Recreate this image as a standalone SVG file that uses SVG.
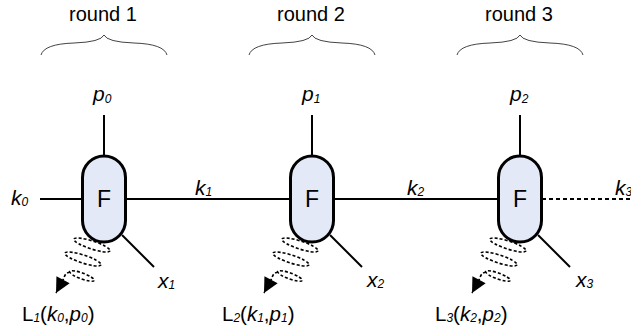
<svg xmlns="http://www.w3.org/2000/svg" xmlns:xlink="http://www.w3.org/1999/xlink" width="631" height="335" viewBox="0 0 631 335">
<style>
text{font-family:"Liberation Sans",Arial,sans-serif;fill:#000}
.lbl{font-size:21px;font-style:italic}
.sub{font-size:12px;font-style:italic}
.rnd{font-size:20px;text-anchor:middle}
.F{font-size:23px;text-anchor:middle}
.L{font-size:20.5px}
.pill{fill:#e3e9f6;stroke:#000;stroke-width:3}
.ln{stroke:#000;stroke-width:2;fill:none}
.dash{stroke:#000;stroke-width:2;fill:none;stroke-dasharray:4 3}
.brace{stroke:#444;stroke-width:1;fill:none}
.coil{stroke:#000;stroke-width:1.6;fill:none;stroke-dasharray:3 2}
</style>
<defs>
<marker id="arr" viewBox="0 0 10 10" refX="10" refY="5" markerUnits="userSpaceOnUse" markerWidth="16" markerHeight="15" orient="auto">
<path d="M0,0 L10,5 L0,10 z" fill="#000"/>
</marker>
<g id="spring">
<ellipse class="coil" cx="-12" cy="46" rx="19" ry="4" transform="rotate(18 -12 46)"/>
<ellipse class="coil" cx="-21" cy="60" rx="19" ry="4" transform="rotate(18 -21 60)"/>
<ellipse class="coil" cx="-22" cy="77" rx="13" ry="3" transform="rotate(20 -22 77)"/>
<path class="coil" d="M-34,73 Q-39,74 -40,79 L-48,94" marker-end="url(#arr)"/>
</g>
<path id="brace" class="brace" d="M-63,55 Q-60,44 -30,43 Q-3,42 0,35 Q3,42 30,43 Q60,44 63,55"/>
</defs>

<g id="braces">
<use xlink:href="#brace" x="104" y="0"/>
<use xlink:href="#brace" x="312" y="0"/>
<use xlink:href="#brace" x="520" y="0"/>
<text class="rnd" x="103" y="21">round 1</text>
<text class="rnd" x="311" y="21">round 2</text>
<text class="rnd" x="519" y="21">round 3</text>
</g>

<g id="connectors">
<line class="ln" x1="40" y1="199" x2="104" y2="199"/>
<line class="ln" x1="104" y1="199" x2="520" y2="199"/>
<line class="dash" x1="542" y1="199" x2="631" y2="199"/>
<line class="ln" x1="104" y1="115" x2="104" y2="160"/>
<line class="ln" x1="312" y1="115" x2="312" y2="160"/>
<line class="ln" x1="520" y1="115" x2="520" y2="160"/>
<line class="ln" x1="122" y1="235" x2="154" y2="267"/>
<line class="ln" x1="330" y1="235" x2="362" y2="267"/>
<line class="ln" x1="538" y1="235" x2="570" y2="267"/>
<use xlink:href="#spring" x="104" y="199"/>
<use xlink:href="#spring" x="312" y="199"/>
<use xlink:href="#spring" x="520" y="199"/>
</g>

<g id="node1">
<rect class="pill" x="82.5" y="156" width="43" height="86" rx="21.5"/>
<text class="F" x="104" y="207">F</text>
</g>
<g id="node2">
<rect class="pill" x="290.5" y="156" width="43" height="86" rx="21.5"/>
<text class="F" x="312" y="207">F</text>
</g>
<g id="node3">
<rect class="pill" x="498.5" y="156" width="43" height="86" rx="21.5"/>
<text class="F" x="520" y="207">F</text>
</g>

<g id="labels">
<text class="lbl" x="93" y="101">p<tspan class="sub" dy="2">0</tspan></text>
<text class="lbl" x="302" y="101">p<tspan class="sub" dy="2">1</tspan></text>
<text class="lbl" x="510" y="101">p<tspan class="sub" dy="2">2</tspan></text>
<text class="lbl" x="11" y="205">k<tspan class="sub" dy="1">0</tspan></text>
<text class="lbl" x="195" y="195">k<tspan class="sub" dy="1">1</tspan></text>
<text class="lbl" x="407" y="195">k<tspan class="sub" dy="1">2</tspan></text>
<text class="lbl" x="615" y="195">k<tspan class="sub" dy="1">3</tspan></text>
<text class="lbl" x="158" y="288">x<tspan class="sub" dy="1">1</tspan></text>
<text class="lbl" x="367" y="287">x<tspan class="sub" dy="1">2</tspan></text>
<text class="lbl" x="576" y="287">x<tspan class="sub" dy="1">3</tspan></text>
<text class="L" x="22" y="321">L<tspan class="sub" dy="1">1</tspan><tspan dy="-1">(</tspan><tspan font-style="italic">k</tspan><tspan class="sub" dy="1">0</tspan><tspan dy="-1">,</tspan><tspan font-style="italic">p</tspan><tspan class="sub" dy="1">0</tspan><tspan dy="-1">)</tspan></text>
<text class="L" x="222" y="321">L<tspan class="sub" dy="1">2</tspan><tspan dy="-1">(</tspan><tspan font-style="italic">k</tspan><tspan class="sub" dy="1">1</tspan><tspan dy="-1">,</tspan><tspan font-style="italic">p</tspan><tspan class="sub" dy="1">1</tspan><tspan dy="-1">)</tspan></text>
<text class="L" x="435" y="321">L<tspan class="sub" dy="1">3</tspan><tspan dy="-1">(</tspan><tspan font-style="italic">k</tspan><tspan class="sub" dy="1">2</tspan><tspan dy="-1">,</tspan><tspan font-style="italic">p</tspan><tspan class="sub" dy="1">2</tspan><tspan dy="-1">)</tspan></text>
</g>
</svg>
